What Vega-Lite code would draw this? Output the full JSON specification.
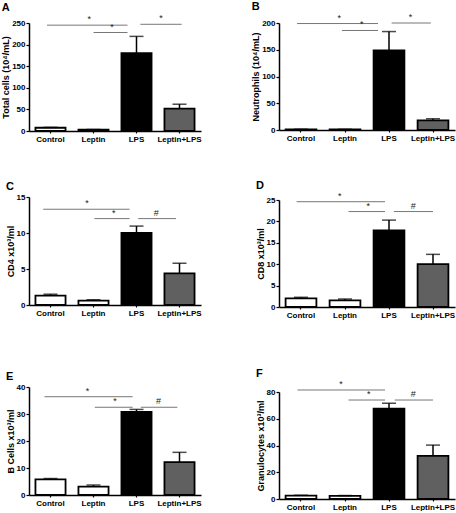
{
  "$schema": "https://vega.github.io/schema/vega-lite/v6.json",
  "padding": {"left": 1, "top": 1, "right": 1, "bottom": 0},
  "background": "white",
  "config": {
    "view": {"stroke": null},
    "font": "Liberation Sans",
    "axis": {
      "labelFont": "Liberation Sans",
      "labelFontWeight": "bold",
      "labelFontSize": 8,
      "labelColor": "black",
      "titleFont": "Liberation Sans",
      "titleFontWeight": "bold",
      "titleFontSize": 9,
      "titleColor": "black",
      "domainColor": "black",
      "domainWidth": 1.5,
      "tickColor": "black",
      "tickWidth": 1.2,
      "grid": false
    },
    "axisX": {"tickSize": 2, "labelPadding": 2, "labelAngle": 0, "title": null},
    "axisY": {"tickSize": 3, "labelPadding": 1, "titlePadding": 1},
    "title": {
      "anchor": "start",
      "frame": "bounds",
      "font": "Liberation Sans",
      "fontSize": 11,
      "fontWeight": "bold",
      "color": "black",
      "offset": 1
    }
  },
  "datasets": {
    "bars": [
      {"panel": "A", "group": "Control", "mean": 7.5, "upper": 8.5},
      {"panel": "A", "group": "Leptin", "mean": 3, "upper": 3.5},
      {"panel": "A", "group": "LPS", "mean": 180, "upper": 219},
      {"panel": "A", "group": "Leptin+LPS", "mean": 52, "upper": 62},
      {"panel": "B", "group": "Control", "mean": 1, "upper": 1.5},
      {"panel": "B", "group": "Leptin", "mean": 1, "upper": 1.3},
      {"panel": "B", "group": "LPS", "mean": 149, "upper": 184},
      {"panel": "B", "group": "Leptin+LPS", "mean": 18, "upper": 21},
      {"panel": "C", "group": "Control", "mean": 1.3, "upper": 1.5},
      {"panel": "C", "group": "Leptin", "mean": 0.6, "upper": 0.73},
      {"panel": "C", "group": "LPS", "mean": 10.0, "upper": 10.96},
      {"panel": "C", "group": "Leptin+LPS", "mean": 4.4, "upper": 5.8},
      {"panel": "D", "group": "Control", "mean": 2.03, "upper": 2.27},
      {"panel": "D", "group": "Leptin", "mean": 1.57, "upper": 1.87},
      {"panel": "D", "group": "LPS", "mean": 17.9, "upper": 20.3},
      {"panel": "D", "group": "Leptin+LPS", "mean": 10, "upper": 12.3},
      {"panel": "E", "group": "Control", "mean": 5.8, "upper": 6.1},
      {"panel": "E", "group": "Leptin", "mean": 3.1, "upper": 3.7},
      {"panel": "E", "group": "LPS", "mean": 30.8, "upper": 31.7},
      {"panel": "E", "group": "Leptin+LPS", "mean": 12.2, "upper": 15.8},
      {"panel": "F", "group": "Control", "mean": 2.5, "upper": 2.8},
      {"panel": "F", "group": "Leptin", "mean": 2.3, "upper": 2.6},
      {"panel": "F", "group": "LPS", "mean": 67.6, "upper": 71.6},
      {"panel": "F", "group": "Leptin+LPS", "mean": 32.3, "upper": 40.3}
    ],
    "sig": [
      {"panel": "A", "x1": 0.42, "x2": 2.29, "xm": 1.4, "y": 245, "label": "*"},
      {"panel": "A", "x1": 1.5, "x2": 2.29, "xm": 1.93, "y": 228, "label": "*"},
      {"panel": "A", "x1": 2.59, "x2": 3.55, "xm": 3.07, "y": 247, "label": "*"},
      {"panel": "B", "x1": 0.41, "x2": 2.25, "xm": 1.37, "y": 199, "label": "*"},
      {"panel": "B", "x1": 1.43, "x2": 2.25, "xm": 1.88, "y": 186, "label": "*"},
      {"panel": "B", "x1": 2.56, "x2": 3.45, "xm": 2.99, "y": 200, "label": "*"},
      {"panel": "C", "x1": 0.33, "x2": 2.34, "xm": 1.35, "y": 13.3, "label": "*"},
      {"panel": "C", "x1": 1.52, "x2": 2.34, "xm": 1.97, "y": 12.0, "label": "*"},
      {"panel": "C", "x1": 2.54, "x2": 3.42, "xm": 2.96, "y": 12.0, "label": "#"},
      {"panel": "D", "x1": 0.4, "x2": 2.41, "xm": 1.38, "y": 24.6, "label": "*"},
      {"panel": "D", "x1": 1.58, "x2": 2.41, "xm": 2.03, "y": 22.3, "label": "*"},
      {"panel": "D", "x1": 2.61, "x2": 3.5, "xm": 3.05, "y": 22.3, "label": "#"},
      {"panel": "E", "x1": 0.36, "x2": 2.41, "xm": 1.36, "y": 36.4, "label": "*"},
      {"panel": "E", "x1": 1.53, "x2": 2.41, "xm": 2.0, "y": 32.5, "label": "*"},
      {"panel": "E", "x1": 2.6, "x2": 3.45, "xm": 3.01, "y": 32.5, "label": "#"},
      {"panel": "F", "x1": 0.42, "x2": 2.41, "xm": 1.41, "y": 81.5, "label": "*"},
      {"panel": "F", "x1": 1.58, "x2": 2.41, "xm": 2.04, "y": 74, "label": "*"},
      {"panel": "F", "x1": 2.63, "x2": 3.5, "xm": 3.05, "y": 74, "label": "#"}
    ]
  },
  "hconcat": [
    {
      "spacing": 54,
      "vconcat": [
        {
          "spacing": 38,
          "vconcat": [
            {
              "title": "A",
              "width": 172,
              "height": 108,
              "resolve": {"scale": {"x": "independent"}},
              "layer": [
                {
                  "data": {"name": "bars"},
                  "transform": [{"filter": "datum.panel == 'A'"}],
                  "encoding": {
                    "x": {"field": "group", "type": "nominal", "sort": ["Control", "Leptin", "LPS", "Leptin+LPS"], "scale": {"paddingInner": 0.3, "paddingOuter": 0.15}}
                  },
                  "layer": [
                    {
                      "mark": {"type": "bar", "stroke": "black", "strokeWidth": 1.8},
                      "encoding": {
                        "y": {"field": "mean", "type": "quantitative", "scale": {"domain": [0, 250], "nice": false}, "axis": {"title": "Total cells (10⁴/mL)", "values": [0, 50, 100, 150, 200, 250]}},
                        "color": {"field": "group", "type": "nominal", "scale": {"domain": ["Control", "Leptin", "LPS", "Leptin+LPS"], "range": ["white", "white", "black", "#606060"]}, "legend": null}
                      }
                    },
                    {
                      "mark": {"type": "rule", "color": "black", "strokeWidth": 1.5},
                      "encoding": {"y": {"field": "mean", "type": "quantitative", "axis": {"title": "Total cells (10⁴/mL)", "values": [0, 50, 100, 150, 200, 250]}}, "y2": {"field": "upper"}}
                    },
                    {
                      "mark": {"type": "tick", "color": "black", "thickness": 1.5, "size": 14},
                      "encoding": {"y": {"field": "upper", "type": "quantitative", "axis": {"title": "Total cells (10⁴/mL)", "values": [0, 50, 100, 150, 200, 250]}}}
                    }
                  ]
                },
                {
                  "data": {"name": "sig"},
                  "transform": [{"filter": "datum.panel == 'A'"}],
                  "encoding": {
                    "y": {"field": "y", "type": "quantitative", "axis": {"title": "Total cells (10⁴/mL)", "values": [0, 50, 100, 150, 200, 250]}}
                  },
                  "layer": [
                    {
                      "mark": {"type": "rule", "color": "#777777", "strokeWidth": 1},
                      "encoding": {"x": {"field": "x1", "type": "quantitative", "scale": {"domain": [0, 4], "nice": false, "zero": false}, "axis": {"domain": false, "ticks": false, "labels": false, "title": null}}, "x2": {"field": "x2"}}
                    },
                    {
                      "mark": {"type": "text", "baseline": "bottom", "dy": -1, "fontSize": 9, "color": "#222222"},
                      "encoding": {"x": {"field": "xm", "type": "quantitative", "axis": {"domain": false, "ticks": false, "labels": false, "title": null}}, "text": {"field": "label"}}
                    }
                  ]
                }
              ]
            },
            {
              "title": "C",
              "width": 172,
              "height": 108,
              "resolve": {"scale": {"x": "independent"}},
              "layer": [
                {
                  "data": {"name": "bars"},
                  "transform": [{"filter": "datum.panel == 'C'"}],
                  "encoding": {
                    "x": {"field": "group", "type": "nominal", "sort": ["Control", "Leptin", "LPS", "Leptin+LPS"], "scale": {"paddingInner": 0.3, "paddingOuter": 0.15}}
                  },
                  "layer": [
                    {
                      "mark": {"type": "bar", "stroke": "black", "strokeWidth": 1.8},
                      "encoding": {
                        "y": {"field": "mean", "type": "quantitative", "scale": {"domain": [0, 15], "nice": false}, "axis": {"title": "CD4 x10³/ml", "values": [0, 5, 10, 15]}},
                        "color": {"field": "group", "type": "nominal", "scale": {"domain": ["Control", "Leptin", "LPS", "Leptin+LPS"], "range": ["white", "white", "black", "#808080"]}, "legend": null}
                      }
                    },
                    {
                      "mark": {"type": "rule", "color": "black", "strokeWidth": 1.5},
                      "encoding": {"y": {"field": "mean", "type": "quantitative", "axis": {"title": "CD4 x10³/ml", "values": [0, 5, 10, 15]}}, "y2": {"field": "upper"}}
                    },
                    {
                      "mark": {"type": "tick", "color": "black", "thickness": 1.5, "size": 14},
                      "encoding": {"y": {"field": "upper", "type": "quantitative", "axis": {"title": "CD4 x10³/ml", "values": [0, 5, 10, 15]}}}
                    }
                  ]
                },
                {
                  "data": {"name": "sig"},
                  "transform": [{"filter": "datum.panel == 'C'"}],
                  "encoding": {
                    "y": {"field": "y", "type": "quantitative", "axis": {"title": "CD4 x10³/ml", "values": [0, 5, 10, 15]}}
                  },
                  "layer": [
                    {
                      "mark": {"type": "rule", "color": "#777777", "strokeWidth": 1},
                      "encoding": {"x": {"field": "x1", "type": "quantitative", "scale": {"domain": [0, 4], "nice": false, "zero": false}, "axis": {"domain": false, "ticks": false, "labels": false, "title": null}}, "x2": {"field": "x2"}}
                    },
                    {
                      "mark": {"type": "text", "baseline": "bottom", "dy": -1, "fontSize": 9, "color": "#222222"},
                      "encoding": {"x": {"field": "xm", "type": "quantitative", "axis": {"domain": false, "ticks": false, "labels": false, "title": null}}, "text": {"field": "label"}}
                    }
                  ]
                }
              ]
            }
          ]
        },
        {
          "title": "E",
          "width": 172,
          "height": 108,
          "resolve": {"scale": {"x": "independent"}},
          "layer": [
            {
              "data": {"name": "bars"},
              "transform": [{"filter": "datum.panel == 'E'"}],
              "encoding": {
                "x": {"field": "group", "type": "nominal", "sort": ["Control", "Leptin", "LPS", "Leptin+LPS"], "scale": {"paddingInner": 0.3, "paddingOuter": 0.15}}
              },
              "layer": [
                {
                  "mark": {"type": "bar", "stroke": "black", "strokeWidth": 1.8},
                  "encoding": {
                    "y": {"field": "mean", "type": "quantitative", "scale": {"domain": [0, 40], "nice": false}, "axis": {"title": "B Cells x10³/ml", "values": [0, 10, 20, 30, 40]}},
                    "color": {"field": "group", "type": "nominal", "scale": {"domain": ["Control", "Leptin", "LPS", "Leptin+LPS"], "range": ["white", "#d4d4d4", "black", "#646464"]}, "legend": null}
                  }
                },
                {
                  "mark": {"type": "rule", "color": "black", "strokeWidth": 1.5},
                  "encoding": {"y": {"field": "mean", "type": "quantitative", "axis": {"title": "B Cells x10³/ml", "values": [0, 10, 20, 30, 40]}}, "y2": {"field": "upper"}}
                },
                {
                  "mark": {"type": "tick", "color": "black", "thickness": 1.5, "size": 14},
                  "encoding": {"y": {"field": "upper", "type": "quantitative", "axis": {"title": "B Cells x10³/ml", "values": [0, 10, 20, 30, 40]}}}
                }
              ]
            },
            {
              "data": {"name": "sig"},
              "transform": [{"filter": "datum.panel == 'E'"}],
              "encoding": {
                "y": {"field": "y", "type": "quantitative", "axis": {"title": "B Cells x10³/ml", "values": [0, 10, 20, 30, 40]}}
              },
              "layer": [
                {
                  "mark": {"type": "rule", "color": "#777777", "strokeWidth": 1},
                  "encoding": {"x": {"field": "x1", "type": "quantitative", "scale": {"domain": [0, 4], "nice": false, "zero": false}, "axis": {"domain": false, "ticks": false, "labels": false, "title": null}}, "x2": {"field": "x2"}}
                },
                {
                  "mark": {"type": "text", "baseline": "bottom", "dy": -1, "fontSize": 9, "color": "#222222"},
                  "encoding": {"x": {"field": "xm", "type": "quantitative", "axis": {"domain": false, "ticks": false, "labels": false, "title": null}}, "text": {"field": "label"}}
                }
              ]
            }
          ]
        }
      ]
    },
    {
      "spacing": 48,
      "vconcat": [
        {
          "spacing": 37,
          "vconcat": [
            {
              "title": "B",
              "width": 176,
              "height": 107,
              "resolve": {"scale": {"x": "independent"}},
              "layer": [
                {
                  "data": {"name": "bars"},
                  "transform": [{"filter": "datum.panel == 'B'"}],
                  "encoding": {
                    "x": {"field": "group", "type": "nominal", "sort": ["Control", "Leptin", "LPS", "Leptin+LPS"], "scale": {"paddingInner": 0.3, "paddingOuter": 0.15}}
                  },
                  "layer": [
                    {
                      "mark": {"type": "bar", "stroke": "black", "strokeWidth": 1.8},
                      "encoding": {
                        "y": {"field": "mean", "type": "quantitative", "scale": {"domain": [0, 200], "nice": false}, "axis": {"title": "Neutrophils (10⁴/mL)", "values": [0, 50, 100, 150, 200]}},
                        "color": {"field": "group", "type": "nominal", "scale": {"domain": ["Control", "Leptin", "LPS", "Leptin+LPS"], "range": ["white", "white", "black", "#606060"]}, "legend": null}
                      }
                    },
                    {
                      "mark": {"type": "rule", "color": "black", "strokeWidth": 1.5},
                      "encoding": {"y": {"field": "mean", "type": "quantitative", "axis": {"title": "Neutrophils (10⁴/mL)", "values": [0, 50, 100, 150, 200]}}, "y2": {"field": "upper"}}
                    },
                    {
                      "mark": {"type": "tick", "color": "black", "thickness": 1.5, "size": 14},
                      "encoding": {"y": {"field": "upper", "type": "quantitative", "axis": {"title": "Neutrophils (10⁴/mL)", "values": [0, 50, 100, 150, 200]}}}
                    }
                  ]
                },
                {
                  "data": {"name": "sig"},
                  "transform": [{"filter": "datum.panel == 'B'"}],
                  "encoding": {
                    "y": {"field": "y", "type": "quantitative", "axis": {"title": "Neutrophils (10⁴/mL)", "values": [0, 50, 100, 150, 200]}}
                  },
                  "layer": [
                    {
                      "mark": {"type": "rule", "color": "#777777", "strokeWidth": 1},
                      "encoding": {"x": {"field": "x1", "type": "quantitative", "scale": {"domain": [0, 4], "nice": false, "zero": false}, "axis": {"domain": false, "ticks": false, "labels": false, "title": null}}, "x2": {"field": "x2"}}
                    },
                    {
                      "mark": {"type": "text", "baseline": "bottom", "dy": -1, "fontSize": 9, "color": "#222222"},
                      "encoding": {"x": {"field": "xm", "type": "quantitative", "axis": {"domain": false, "ticks": false, "labels": false, "title": null}}, "text": {"field": "label"}}
                    }
                  ]
                }
              ]
            },
            {
              "title": "D",
              "width": 176,
              "height": 107,
              "resolve": {"scale": {"x": "independent"}},
              "layer": [
                {
                  "data": {"name": "bars"},
                  "transform": [{"filter": "datum.panel == 'D'"}],
                  "encoding": {
                    "x": {"field": "group", "type": "nominal", "sort": ["Control", "Leptin", "LPS", "Leptin+LPS"], "scale": {"paddingInner": 0.3, "paddingOuter": 0.15}}
                  },
                  "layer": [
                    {
                      "mark": {"type": "bar", "stroke": "black", "strokeWidth": 1.8},
                      "encoding": {
                        "y": {"field": "mean", "type": "quantitative", "scale": {"domain": [0, 25], "nice": false}, "axis": {"title": "CD8 x10³/ml", "values": [0, 5, 10, 15, 20, 25]}},
                        "color": {"field": "group", "type": "nominal", "scale": {"domain": ["Control", "Leptin", "LPS", "Leptin+LPS"], "range": ["white", "#d4d4d4", "black", "#686868"]}, "legend": null}
                      }
                    },
                    {
                      "mark": {"type": "rule", "color": "black", "strokeWidth": 1.5},
                      "encoding": {"y": {"field": "mean", "type": "quantitative", "axis": {"title": "CD8 x10³/ml", "values": [0, 5, 10, 15, 20, 25]}}, "y2": {"field": "upper"}}
                    },
                    {
                      "mark": {"type": "tick", "color": "black", "thickness": 1.5, "size": 14},
                      "encoding": {"y": {"field": "upper", "type": "quantitative", "axis": {"title": "CD8 x10³/ml", "values": [0, 5, 10, 15, 20, 25]}}}
                    }
                  ]
                },
                {
                  "data": {"name": "sig"},
                  "transform": [{"filter": "datum.panel == 'D'"}],
                  "encoding": {
                    "y": {"field": "y", "type": "quantitative", "axis": {"title": "CD8 x10³/ml", "values": [0, 5, 10, 15, 20, 25]}}
                  },
                  "layer": [
                    {
                      "mark": {"type": "rule", "color": "#777777", "strokeWidth": 1},
                      "encoding": {"x": {"field": "x1", "type": "quantitative", "scale": {"domain": [0, 4], "nice": false, "zero": false}, "axis": {"domain": false, "ticks": false, "labels": false, "title": null}}, "x2": {"field": "x2"}}
                    },
                    {
                      "mark": {"type": "text", "baseline": "bottom", "dy": -1, "fontSize": 9, "color": "#222222"},
                      "encoding": {"x": {"field": "xm", "type": "quantitative", "axis": {"domain": false, "ticks": false, "labels": false, "title": null}}, "text": {"field": "label"}}
                    }
                  ]
                }
              ]
            }
          ]
        },
        {
          "title": "F",
          "width": 176,
          "height": 107,
          "resolve": {"scale": {"x": "independent"}},
          "layer": [
            {
              "data": {"name": "bars"},
              "transform": [{"filter": "datum.panel == 'F'"}],
              "encoding": {
                "x": {"field": "group", "type": "nominal", "sort": ["Control", "Leptin", "LPS", "Leptin+LPS"], "scale": {"paddingInner": 0.3, "paddingOuter": 0.15}}
              },
              "layer": [
                {
                  "mark": {"type": "bar", "stroke": "black", "strokeWidth": 1.8},
                  "encoding": {
                    "y": {"field": "mean", "type": "quantitative", "scale": {"domain": [0, 80], "nice": false}, "axis": {"title": "Granulocytes x10³/ml", "values": [0, 20, 40, 60, 80]}},
                    "color": {"field": "group", "type": "nominal", "scale": {"domain": ["Control", "Leptin", "LPS", "Leptin+LPS"], "range": ["#7a7a7a", "#7a7a7a", "black", "#686868"]}, "legend": null}
                  }
                },
                {
                  "mark": {"type": "rule", "color": "black", "strokeWidth": 1.5},
                  "encoding": {"y": {"field": "mean", "type": "quantitative", "axis": {"title": "Granulocytes x10³/ml", "values": [0, 20, 40, 60, 80]}}, "y2": {"field": "upper"}}
                },
                {
                  "mark": {"type": "tick", "color": "black", "thickness": 1.5, "size": 14},
                  "encoding": {"y": {"field": "upper", "type": "quantitative", "axis": {"title": "Granulocytes x10³/ml", "values": [0, 20, 40, 60, 80]}}}
                }
              ]
            },
            {
              "data": {"name": "sig"},
              "transform": [{"filter": "datum.panel == 'F'"}],
              "encoding": {
                "y": {"field": "y", "type": "quantitative", "axis": {"title": "Granulocytes x10³/ml", "values": [0, 20, 40, 60, 80]}}
              },
              "layer": [
                {
                  "mark": {"type": "rule", "color": "#777777", "strokeWidth": 1},
                  "encoding": {"x": {"field": "x1", "type": "quantitative", "scale": {"domain": [0, 4], "nice": false, "zero": false}, "axis": {"domain": false, "ticks": false, "labels": false, "title": null}}, "x2": {"field": "x2"}}
                },
                {
                  "mark": {"type": "text", "baseline": "bottom", "dy": -1, "fontSize": 9, "color": "#222222"},
                  "encoding": {"x": {"field": "xm", "type": "quantitative", "axis": {"domain": false, "ticks": false, "labels": false, "title": null}}, "text": {"field": "label"}}
                }
              ]
            }
          ]
        }
      ]
    }
  ],
  "spacing": 49
}
